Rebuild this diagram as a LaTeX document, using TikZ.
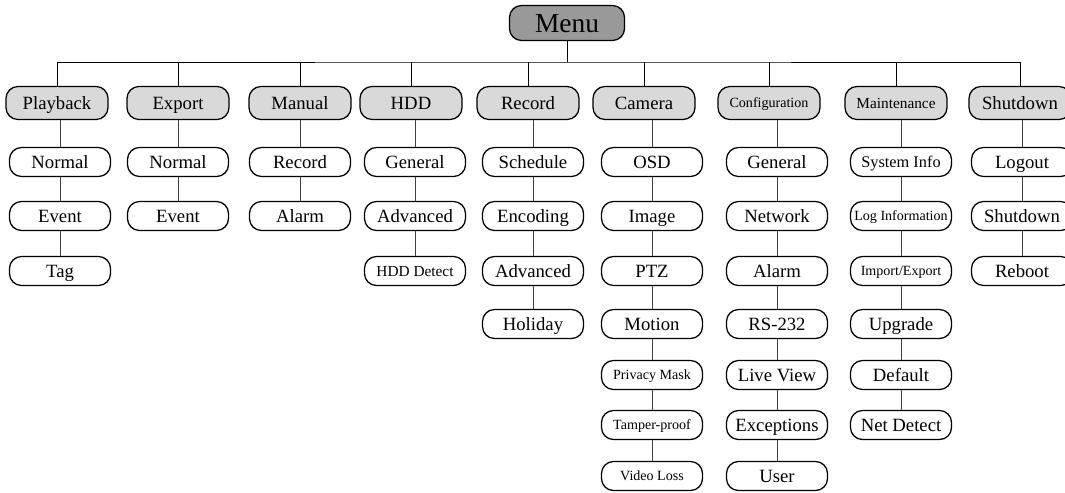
\documentclass[tikz,border=0pt]{standalone}
\usepackage{fontspec}
\setmainfont{Liberation Serif}
\usetikzlibrary{positioning}
\tikzset{menubox/.style={draw, line width=0.9pt, rounded corners=0.3cm,
                         inner sep=0pt, text depth=0pt},
         top/.style={menubox, fill=black!40, minimum width=2.875cm,
                     minimum height=0.875cm, text height=12.9pt,
                     font=\fontsize{19.5}{22}\selectfont},
         group/.style={menubox, fill=black!15, minimum width=2.55cm,
                       minimum height=0.825cm, text height=8.8pt,
                       font=\fontsize{13.3}{15}\selectfont},
         item/.style={menubox, fill=white, minimum width=2.525cm,
                      minimum height=0.725cm, text height=8.8pt,
                      font=\fontsize{13.3}{15}\selectfont},
         small/.style={font=\fontsize{10}{12}\selectfont, text height=6.6pt},
         mid/.style={font=\fontsize{10.9}{12}\selectfont, text height=7.2pt},
         info/.style={font=\fontsize{11.6}{13}\selectfont, text height=7.7pt},
         bus/.style={line width=0.7pt},
         link/.style={line width=0.5pt, black!75}}

\begin{document}
\begin{tikzpicture}[x=0.025cm, y=-0.025cm]
      \clip (0,0) rectangle (1065,493);
      \useasboundingbox (0,0) rectangle (1065,493);

      \node[top] (menu) at (567, 23) {Menu};

      % first level
      \node[group] (play) at (57, 103) {Playback};
      \node[group] (exp) at (178, 103) {Export};
      \node[group] (man) at (300, 103) {Manual};
      \node[group] (hdd) at (411, 103) {HDD};
      \node[group] (rec) at (528, 103) {Record};
      \node[group] (cam) at (644, 103) {Camera};
      \node[group, small] (conf) at (769, 103) {Configuration};
      \node[group, mid] (main) at (896, 103) {Maintenance};
      \node[group] (shut) at (1020, 103) {Shutdown};

      % second level
      \node[item] (pn) at (60, 162) {Normal};
      \node[item] (pe) at (60, 216) {Event};
      \node[item] (pt) at (60, 271) {Tag};

      \node[item] (en) at (178, 162) {Normal};
      \node[item] (ee) at (178, 216) {Event};

      \node[item] (mr) at (300, 162) {Record};
      \node[item] (ma) at (300, 216) {Alarm};

      \node[item] (hg) at (415, 162) {General};
      \node[item] (ha) at (415, 216) {Advanced};
      \node[item, mid] (hd) at (415, 271) {HDD Detect};

      \node[item] (rs) at (533, 162) {Schedule};
      \node[item] (re) at (533, 216) {Encoding};
      \node[item] (ra) at (533, 271) {Advanced};
      \node[item] (rh) at (533, 324) {Holiday};

      \node[item] (co) at (652, 162) {OSD};
      \node[item] (ci) at (652, 216) {Image};
      \node[item] (cp) at (652, 271) {PTZ};
      \node[item] (cm) at (652, 324) {Motion};
      \node[item, small] (cv) at (652, 375) {Privacy Mask};
      \node[item, small] (ct) at (652, 425) {Tamper-proof};
      \node[item, small] (cl) at (652, 476) {Video Loss};

      \node[item] (fg) at (777, 162) {General};
      \node[item] (fn) at (777, 216) {Network};
      \node[item] (fa) at (777, 271) {Alarm};
      \node[item] (fr) at (777, 324) {RS-232};
      \node[item] (fl) at (777, 375) {Live View};
      \node[item] (fe) at (777, 425) {Exceptions};
      \node[item] (fu) at (777, 476) {User};

      \node[item, info] (ts) at (901, 162) {System Info};
      \node[item, small] (tl) at (901, 216) {Log Information};
      \node[item, small] (ti) at (901, 271) {Import/Export};
      \node[item] (tu) at (901, 324) {Upgrade};
      \node[item] (td) at (901, 375) {Default};
      \node[item] (tn) at (901, 425) {Net Detect};

      \node[item] (sl) at (1022, 162) {Logout};
      \node[item] (ss) at (1022, 216) {Shutdown};
      \node[item] (sr) at (1022, 271) {Reboot};

      % bus
      \coordinate (bus) at (567, 62);
      \draw[bus] (menu) -- (bus)
        (play.north) |- (bus) -| (shut.north)
        (exp.north) -- (exp.north |- bus)
        (man.north) -- (man.north |- bus)
        (hdd.north) -- (hdd.north |- bus)
        (rec.north) -- (rec.north |- bus)
        (cam.north) -- (cam.north |- bus)
        (conf.north) -- (conf.north |- bus)
        (main.north) -- (main.north |- bus);

      % columns
      \draw[link] (play.south -| pn) -- (pn) (pn) -- (pe) (pe) -- (pt)
        (exp.south -| en) -- (en) (en) -- (ee)
        (man.south -| mr) -- (mr) (mr) -- (ma)
        (hdd.south -| hg) -- (hg) (hg) -- (ha) (ha) -- (hd)
        (rec.south -| rs) -- (rs) (rs) -- (re) (re) -- (ra) (ra) -- (rh)
        (cam.south -| co) -- (co) (co) -- (ci) (ci) -- (cp) (cp) -- (cm)
        (cm) -- (cv) (cv) -- (ct) (ct) -- (cl)
        (conf.south -| fg) -- (fg) (fg) -- (fn) (fn) -- (fa) (fa) -- (fr)
        (fr) -- (fl) (fl) -- (fe) (fe) -- (fu)
        (main.south -| ts) -- (ts) (ts) -- (tl) (tl) -- (ti) (ti) -- (tu)
        (tu) -- (td) (td) -- (tn)
        (shut.south -| sl) -- (sl) (sl) -- (ss) (ss) -- (sr);
    \end{tikzpicture}
\end{document}
